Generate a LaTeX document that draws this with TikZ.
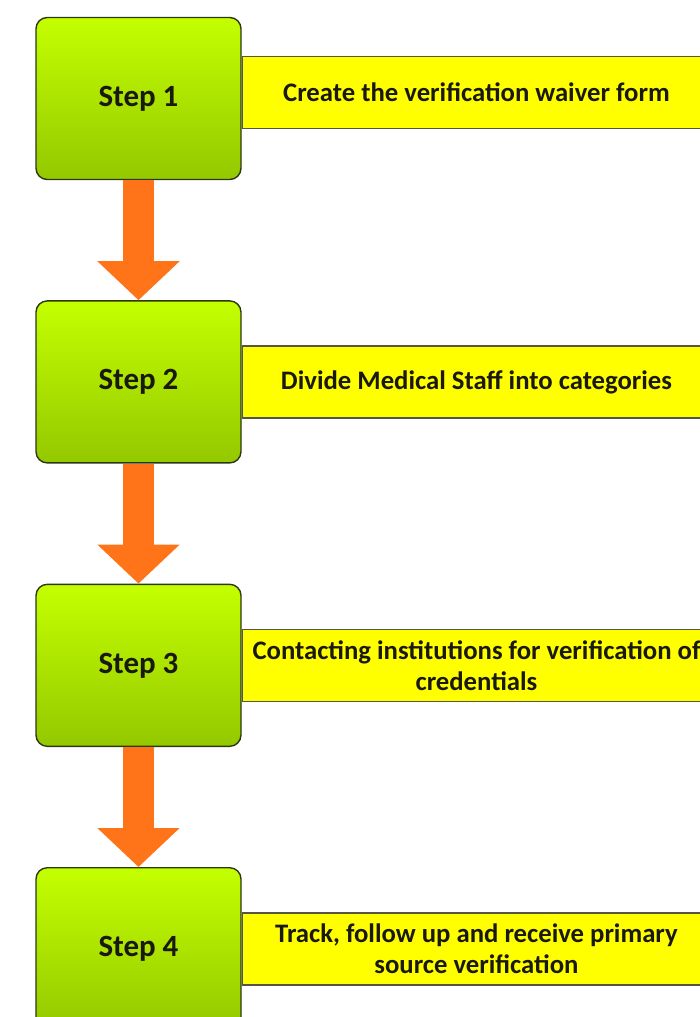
\documentclass[tikz,border=0pt]{standalone}
\usepackage{fontspec}
\setmainfont{Carlito}
\usetikzlibrary{arrows.meta, positioning}
\definecolor{stepGreenTop}{RGB}{196, 255, 0}
\definecolor{stepGreenBot}{RGB}{148, 200, 0}
\definecolor{stepBorder}{RGB}{45, 55, 20}
\definecolor{barYellow}{RGB}{255, 255, 0}
\definecolor{barBorder}{RGB}{85, 85, 70}
\definecolor{flowOrange}{RGB}{255, 116, 24}
\definecolor{textDark}{RGB}{25, 25, 15}

\begin{document}
\begin{tikzpicture}[
    node distance=3cm and 0cm,
    % Step Block
    stepbox/.style={
        draw=stepBorder,
        top color=stepGreenTop,
        bottom color=stepGreenBot,
        rectangle,
        rounded corners=8pt,
        line width=1pt,
        minimum width=5.125cm,
        minimum height=4.05cm,
        text=textDark,
        font=\fontsize{22}{26}\selectfont\bfseries
    },
    % Task Bar
    taskbar/.style={
        draw=barBorder,
        fill=barYellow,
        rectangle,
        line width=1.1pt,
        minimum width=11.7cm,
        minimum height=1.8cm,
        align=center,
        text=textDark,
        font=\fontsize{19}{22}\selectfont\bfseries
    },
    % Block Arrow
    flow/.style={
        draw=flowOrange,
        line width=0.775cm,
        -{Triangle[width=2cm, length=0.975cm]}
    }
]

    % Page Frame
    \useasboundingbox (0,0) rectangle (17.5,-25.425);
    \clip (0,0) rectangle (17.5,-25.425);

    % Steps
    \node (s1) [stepbox] at (3.4625,-2.4625) {Step 1};
    \node (s2) [stepbox, below=of s1] {Step 2};
    \node (s3) [stepbox, below=of s2] {Step 3};
    \node (s4) [stepbox, below=of s3] {Step 4};

    % Tasks
    \node (t1) [taskbar, right=of s1, yshift=0.15cm] {Create the verification waiver form};
    \node (t2) [taskbar, right=of s2] {Divide Medical Staff into categories};
    \node (t3) [taskbar, right=of s3] {Contacting institutions for verification of\\credentials};
    \node (t4) [taskbar, right=of s4] {Track, follow up and receive primary\\source verification};

    % Connector Arrows
    \draw [flow] (s1) -- (s2);
    \draw [flow] (s2) -- (s3);
    \draw [flow] (s3) -- (s4);

\end{tikzpicture}
\end{document}
